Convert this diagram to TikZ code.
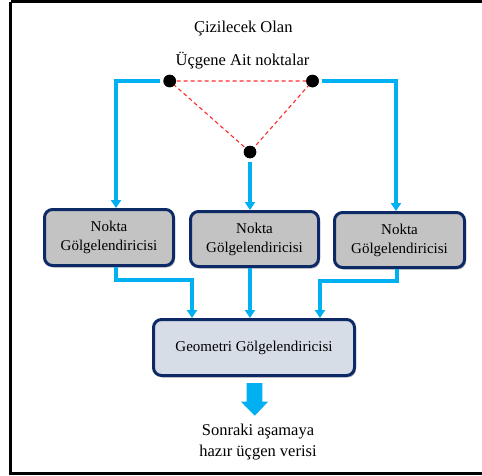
\documentclass[tikz,border=0pt]{standalone}
\usepackage{fontspec}
\setmainfont{Liberation Serif}
\usetikzlibrary{arrows.meta,shadows,positioning}

\definecolor{flowblue}{HTML}{00B0F0}
\definecolor{boxedge}{HTML}{0E2A66}
\definecolor{boxgray}{HTML}{C3C3C3}
\definecolor{geofill}{HTML}{D7DDE7}
\definecolor{trired}{HTML}{FF2A2A}

\tikzset{
  shader/.style={draw=boxedge, line width=3pt, rounded corners=8pt,
    fill=boxgray, align=center, font=\fontsize{15}{19}\selectfont,
    inner sep=0pt,
    drop shadow={shadow xshift=1.5pt, shadow yshift=-2pt, opacity=0.25, fill=black}},
  vertex/.style={circle, fill=black, minimum size=12.5pt, inner sep=0pt, outer sep=3.5pt},
  flow/.style={draw=flowblue, line width=3.2pt},
  flowarrow/.style={flow, -{Triangle[length=8pt,width=10pt]}},
  edge/.style={draw=trired, line width=1.1pt, dash pattern=on 4pt off 3pt},
  plaintext/.style={font=\fontsize{16.5}{21}\selectfont, align=center, inner sep=0pt}
}

\begin{document}
\begin{tikzpicture}[x=1pt, y=-1pt]
  \useasboundingbox (0,0) rectangle (482,475);
  \fill[white] (0,0) rectangle (482,475);
  % outer frame (right edge runs past the page)
  \draw[black, line width=3pt] (10.5,1.5) -- (10.5,473.5) -- (495,473.5);
  \draw[black, line width=3pt] (10.5,1.5) -- (495,1.5);

  % titles
  \node[plaintext] (title1) at (243.3,29) {Çizilecek Olan};
  \node[plaintext] (title2) at (242.5,61) {Üçgene Ait noktalar};

  % triangle vertices
  \node[vertex] (pa) at (169.7,81) {};
  \node[vertex] (pb) at (312.5,81) {};
  \node[vertex] (pc) at (250,152) {};
  \draw[edge] (pa.center) -- (pb.center) -- (pc.center) -- cycle;
  \node[vertex] at (pa) {};
  \node[vertex] at (pb) {};
  \node[vertex] at (pc) {};

  % point shaders
  \node[shader, minimum width=129pt, minimum height=56pt] (s1) at (109,237.5) {Nokta\\Gölgelendiricisi};
  \node[shader, minimum width=128pt, minimum height=55pt] (s2) at (254.5,239) {Nokta\\Gölgelendiricisi};
  \node[shader, minimum width=130pt, minimum height=55pt] (s3) at (399.5,240) {Nokta\\Gölgelendiricisi};

  % geometry shader
  \node[shader, fill=geofill, minimum width=201pt, minimum height=56pt] (geo) at (254,347.5) {Geometri Gölgelendiricisi};

  % connector turning points
  \coordinate (ta) at (116,81);
  \coordinate (tb) at (396,81);
  \coordinate (ua) at (116,280);
  \coordinate (ub) at (192,280);
  \coordinate (uc) at (397,281);
  \coordinate (ud) at (320,281);

  % vertices to point shaders
  \draw[flowarrow] (pa.west) -- (ta) -- (ta |- s1.north);
  \draw[flowarrow] (pc.south) -- (pc |- s2.north);
  \draw[flowarrow] (pb.east) -- (tb) -- (tb |- s3.north);

  % point shaders to geometry shader
  \draw[flowarrow] (ua |- s1.south) -- (ua) -- (ub) -- (ub |- geo.north);
  \draw[flowarrow] (250,0 |- s2.south) -- (250,0 |- geo.north);
  \draw[flowarrow] (uc |- s3.south) -- (uc) -- (ud) -- (ud |- geo.north);

  % block arrow to the output
  \fill[flowblue] (246.7,383) -- (262.3,383) -- (262.3,401.7) -- (268,401.7)
    -- (254.8,415.7) -- (241,401.7) -- (246.7,401.7) -- cycle;

  \node[plaintext] (result) at (258,442.5) {Sonraki aşamaya\\hazır üçgen verisi};
\end{tikzpicture}
\end{document}
